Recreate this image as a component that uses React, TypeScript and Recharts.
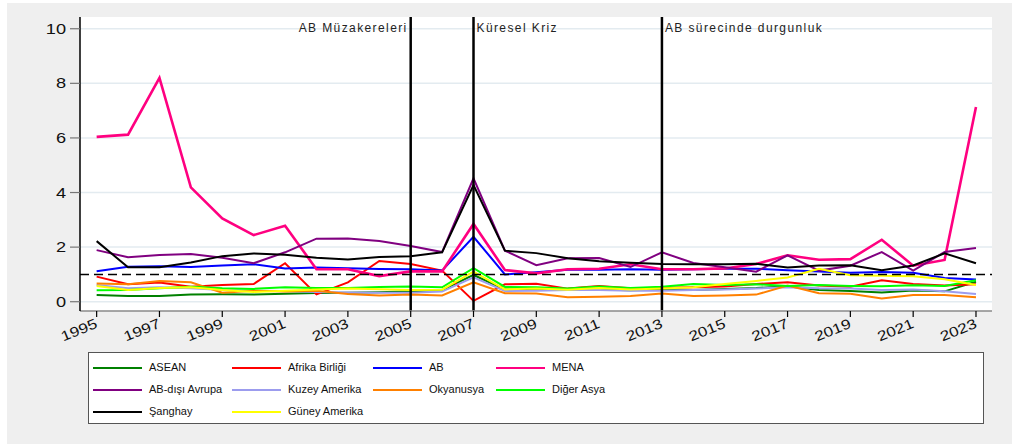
import React from 'react';
import { LineChart, Line, XAxis, YAxis, CartesianGrid, ReferenceLine } from 'recharts';

const years = [1995, 1996, 1997, 1998, 1999, 2000, 2001, 2002, 2003, 2004, 2005, 2006, 2007, 2008, 2009, 2010, 2011, 2012, 2013, 2014, 2015, 2016, 2017, 2018, 2019, 2020, 2021, 2022, 2023];

const asean = [0.25, 0.21, 0.21, 0.26, 0.27, 0.26, 0.29, 0.32, 0.33, 0.35, 0.38, 0.42, 0.98, 0.45, 0.45, 0.43, 0.45, 0.42, 0.45, 0.43, 0.47, 0.5, 0.57, 0.43, 0.39, 0.34, 0.41, 0.38, 0.73];
const afrika = [0.92, 0.64, 0.7, 0.55, 0.61, 0.65, 1.41, 0.27, 0.71, 1.49, 1.38, 1.14, 0.03, 0.64, 0.66, 0.48, 0.58, 0.49, 0.51, 0.53, 0.56, 0.65, 0.71, 0.59, 0.55, 0.79, 0.65, 0.59, 0.64];
const ab = [1.12, 1.28, 1.3, 1.27, 1.33, 1.37, 1.22, 1.25, 1.23, 1.2, 1.19, 1.14, 2.38, 1.0, 1.08, 1.17, 1.17, 1.19, 1.17, 1.19, 1.21, 1.21, 1.15, 1.11, 1.06, 1.09, 1.06, 0.87, 0.81];
const mena = [6.04, 6.12, 8.2, 4.19, 3.05, 2.44, 2.78, 1.19, 1.19, 0.94, 1.11, 1.11, 2.85, 1.16, 1.04, 1.19, 1.21, 1.37, 1.19, 1.19, 1.22, 1.38, 1.7, 1.54, 1.56, 2.27, 1.32, 1.53, 7.13];
const abDisiAvrupa = [1.89, 1.63, 1.71, 1.75, 1.61, 1.41, 1.81, 2.31, 2.32, 2.22, 2.04, 1.82, 4.52, 1.87, 1.34, 1.59, 1.6, 1.27, 1.81, 1.42, 1.26, 1.1, 1.7, 1.14, 1.32, 1.82, 1.14, 1.82, 1.97];
const kuzeyAmerika = [0.61, 0.49, 0.53, 0.49, 0.43, 0.4, 0.39, 0.36, 0.34, 0.33, 0.33, 0.37, 0.89, 0.39, 0.4, 0.43, 0.43, 0.4, 0.4, 0.43, 0.45, 0.48, 0.53, 0.49, 0.48, 0.43, 0.45, 0.38, 0.28];
const okyanusya = [0.67, 0.64, 0.76, 0.71, 0.33, 0.4, 0.37, 0.4, 0.28, 0.23, 0.26, 0.23, 0.71, 0.31, 0.3, 0.16, 0.18, 0.21, 0.3, 0.21, 0.23, 0.26, 0.59, 0.31, 0.29, 0.12, 0.25, 0.25, 0.16];
const digerAsya = [0.42, 0.43, 0.49, 0.55, 0.49, 0.47, 0.53, 0.5, 0.5, 0.54, 0.56, 0.53, 1.23, 0.54, 0.53, 0.48, 0.56, 0.5, 0.55, 0.65, 0.61, 0.64, 0.58, 0.61, 0.58, 0.57, 0.6, 0.58, 0.79];
const sanghay = [2.22, 1.26, 1.26, 1.44, 1.67, 1.77, 1.72, 1.61, 1.55, 1.64, 1.67, 1.81, 4.27, 1.87, 1.78, 1.59, 1.48, 1.43, 1.38, 1.37, 1.37, 1.39, 1.25, 1.33, 1.34, 1.15, 1.33, 1.77, 1.41];
const guneyAmerika = [0.58, 0.43, 0.5, 0.53, 0.43, 0.36, 0.4, 0.45, 0.48, 0.46, 0.43, 0.44, 1.1, 0.45, 0.48, 0.44, 0.5, 0.45, 0.48, 0.53, 0.65, 0.76, 0.89, 1.21, 0.97, 0.95, 0.93, 0.82, 0.61];

const xTicks = [1995, 1997, 1999, 2001, 2003, 2005, 2007, 2009, 2011, 2013, 2015, 2017, 2019, 2021, 2023];
const yTicks = [0, 2, 4, 6, 8, 10];

const events = [
  { year: 2005, label: 'AB Müzakereleri', side: 'left' },
  { year: 2007, label: 'Küresel Kriz', side: 'right' },
  { year: 2013, label: 'AB sürecinde durgunluk', side: 'right' },
];

const series = [
  { key: 'asean', name: 'ASEAN', color: '#008000', values: asean, width: 2 },
  { key: 'afrika', name: 'Afrika Birliği', color: '#ff0000', values: afrika, width: 2 },
  { key: 'ab', name: 'AB', color: '#0000ff', values: ab, width: 2 },
  { key: 'mena', name: 'MENA', color: '#ff0080', values: mena, width: 2.6 },
  { key: 'abDisi', name: 'AB-dışı Avrupa', color: '#800080', values: abDisiAvrupa, width: 2 },
  { key: 'kuzey', name: 'Kuzey Amerika', color: '#9c9cee', values: kuzeyAmerika, width: 2 },
  { key: 'okyanusya', name: 'Okyanusya', color: '#ff8000', values: okyanusya, width: 2 },
  { key: 'diger', name: 'Diğer Asya', color: '#00ff00', values: digerAsya, width: 2 },
  { key: 'sanghay', name: 'Şanghay', color: '#000000', values: sanghay, width: 2 },
  { key: 'guney', name: 'Güney Amerika', color: '#ffff00', values: guneyAmerika, width: 2 },
];

const data = years.map((y, i) => {
  const row: Record<string, number> = { year: y };
  series.forEach((s) => {
    row[s.key] = s.values[i];
  });
  return row;
});

const FONT = '"Liberation Sans", Arial, sans-serif';

const YTick = (props: any) => {
  const { x, y, payload } = props;
  return (
    <g transform={`translate(${x - 2},${y})`}>
      <text x={0} y={0} dy={5} textAnchor="end" fontSize={14} fill="#111" fontFamily={FONT} transform="scale(1.3,1)">
        {payload.value}
      </text>
    </g>
  );
};

const XTick = (props: any) => {
  const { x, y, payload } = props;
  return (
    <g transform={`translate(${x - 2},${y - 1}) rotate(-22)`}>
      <text x={0} y={0} dy={10} textAnchor="end" fontSize={14} fill="#111" fontFamily={FONT} transform="scale(1.22,1)">
        {payload.value}
      </text>
    </g>
  );
};

const makeLabel = (text: string, side: string) => (props: any) => {
  const vb = props.viewBox || {};
  const x = vb.x ?? 0;
  const y = vb.y ?? 0;
  return (
    <text
      x={side === 'left' ? x - 3 : x + 3}
      y={y + 15}
      textAnchor={side === 'left' ? 'end' : 'start'}
      fontSize={12}
      letterSpacing={1.4}
      fill="#222"
      fontFamily={FONT}
    >
      {text}
    </text>
  );
};

const legendCols = [4, 143, 284, 407];
const legendRows = [14.7, 37, 58.7];

export default function App() {
  return (
    <div style={{ position: 'absolute', left: 7, top: 3, width: 1005, height: 441, background: '#efefef' }}>
      <LineChart width={1005} height={340} data={data} margin={{ top: 14, right: 20, left: 0, bottom: 0 }}>
        <CartesianGrid horizontal vertical={false} fill="#ffffff" stroke="#e3ebf0" strokeWidth={1.5} horizontalValues={yTicks} />
        <XAxis
          dataKey="year"
          type="number"
          domain={[1994.47, 2023.51]}
          ticks={xTicks}
          allowDataOverflow
          height={32}
          axisLine={{ stroke: '#8a8a8a', strokeWidth: 1.5 }}
          tickLine={{ stroke: '#000', strokeWidth: 1.2 }}
          tickSize={6}
          tick={<XTick />}
          interval={0}
        />
        <YAxis
          type="number"
          domain={[-0.34, 10.43]}
          ticks={yTicks}
          allowDataOverflow
          width={73}
          axisLine={{ stroke: '#000', strokeWidth: 1.5 }}
          tickLine={{ stroke: '#777', strokeWidth: 1.2 }}
          tickSize={10}
          tick={<YTick />}
          interval={0}
        />
        {series.map((s) => (
          <Line
            key={s.key}
            type="linear"
            dataKey={s.key}
            name={s.name}
            stroke={s.color}
            strokeWidth={s.width}
            dot={false}
            activeDot={false}
            isAnimationActive={false}
          />
        ))}
        <ReferenceLine y={1} stroke="#000" strokeWidth={1.5} strokeDasharray="9 5" />
        {events.map((e) => (
          <ReferenceLine key={e.year} x={e.year} stroke="#000" strokeWidth={2.5} label={makeLabel(e.label, e.side)} />
        ))}
      </LineChart>
      <div
        style={{
          position: 'absolute',
          left: 81,
          top: 349,
          width: 894,
          height: 70,
          background: '#fff',
          border: '1px solid #555',
          fontFamily: FONT,
          fontSize: 11,
          color: '#111',
        }}
      >
        {series.map((s, i) => {
          const col = i % 4;
          const row = Math.floor(i / 4);
          const top = legendRows[row];
          return (
            <React.Fragment key={s.key}>
              <div
                style={{
                  position: 'absolute',
                  left: legendCols[col],
                  top: top - 1,
                  width: 49,
                  height: 2,
                  background: s.color,
                }}
              />
              <div
                style={{
                  position: 'absolute',
                  left: legendCols[col] + 56,
                  top: top - 7,
                  lineHeight: '13px',
                  whiteSpace: 'nowrap',
                }}
              >
                {s.name}
              </div>
            </React.Fragment>
          );
        })}
      </div>
    </div>
  );
}
